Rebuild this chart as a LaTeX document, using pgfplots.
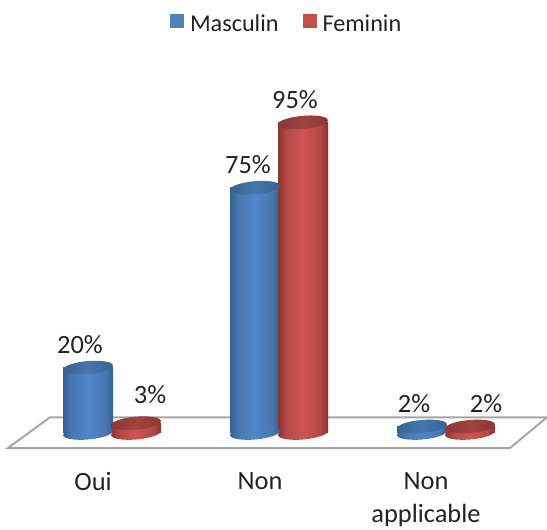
\documentclass[border=0pt]{standalone}
\usepackage{fontspec}
\setmainfont{Carlito}
\usepackage{pgfplots}
\usepackage{pgfplotstable}
\pgfplotsset{compat=1.18}

\definecolor{bE}{HTML}{345F90}
\definecolor{bM}{HTML}{4878B2}
\definecolor{bC}{HTML}{5286CA}
\definecolor{rE}{HTML}{873331}
\definecolor{rM}{HTML}{B44846}
\definecolor{rC}{HTML}{CE5552}
\definecolor{bcE}{HTML}{38628F}
\definecolor{bcC}{HTML}{4476AE}
\definecolor{rcE}{HTML}{8A3735}
\definecolor{rcC}{HTML}{A04341}

% Side shading of the cylinders and of their top faces
\pgfdeclarehorizontalshading{cylblue}{100bp}{color(0bp)=(bE); color(25bp)=(bE); color(33bp)=(bM); color(50bp)=(bC); color(67bp)=(bM); color(75bp)=(bE); color(100bp)=(bE)}
\pgfdeclarehorizontalshading{cylred}{100bp}{color(0bp)=(rE); color(25bp)=(rE); color(33bp)=(rM); color(50bp)=(rC); color(67bp)=(rM); color(75bp)=(rE); color(100bp)=(rE)}
\pgfdeclarehorizontalshading{capblue}{100bp}{color(0bp)=(bcE); color(25bp)=(bcE); color(50bp)=(bcC); color(75bp)=(bcE); color(100bp)=(bcE)}
\pgfdeclarehorizontalshading{capred}{100bp}{color(0bp)=(rcE); color(25bp)=(rcE); color(50bp)=(rcC); color(75bp)=(rcE); color(100bp)=(rcE)}

% Elliptic faces of the cylinders
\newcommand\cylface[1]{%
  \pgftransformrotate{5}%
  \pgfpathellipse{\pgfpointorigin}{\pgfqpoint{25bp}{0pt}}{\pgfqpoint{0pt}{6.5bp}}%
  \pgfshadepath{#1}{0}\pgfusepath{discard}}
\pgfdeclareplotmark{baseblue}{\cylface{cylblue}}
\pgfdeclareplotmark{basered}{\cylface{cylred}}
\pgfdeclareplotmark{topblue}{\cylface{capblue}}
\pgfdeclareplotmark{topred}{\cylface{capred}}

\definecolor{legblue}{HTML}{4F81BD}
\definecolor{legred}{HTML}{C0504D}
\definecolor{floorline}{HTML}{A6A6A6}
\definecolor{txt}{HTML}{222222}

\pgfplotstableread{
x   base val dx  dy
88  0    20  -8  0
255 0    75  -7  0
422 0    2   -8  0
}\masculin
\pgfplotstableread{
x   base val dx  dy
136 0    3   14  6
303 0    95  -8  0
470 0    2   16  0
}\feminin

\newcommand\chartfont{\fontsize{26.5}{33.5}\selectfont\color{txt}}
\newcommand\legendfont{\fontsize{24.3}{30}\selectfont\color{txt}}

\pgfplotsset{
  valuelabels/.style={
    forget plot, draw=none, mark=none,
    visualization depends on={\thisrow{dx} \as \labdx},
    visualization depends on={\thisrow{dy} \as \labdy},
    point meta=y,
    nodes near coords={\pgfmathprintnumber[assume math mode=true]{\pgfplotspointmeta}\%},
    every node near coord/.append style={font=\chartfont, xshift=\labdx bp, yshift=\labdy bp, anchor=south, inner sep=0pt, outer sep=0pt, yshift=13.5bp},
  },
  % each cylinder body is its own path, so that it gets the whole shading
  body/.style={forget plot, ybar, bar width=50, bar shift=0pt, draw=none, shade, shading=#1},
  row0/.style={skip coords between index={1}{3}},
  row1/.style={skip coords between index={0}{1}, skip coords between index={2}{3}},
  row2/.style={skip coords between index={0}{2}},
}

\begin{document}
\begin{tikzpicture}[x=1bp,y=1bp]
\useasboundingbox (0,0) rectangle (547,530);
\begin{axis}[
  at={(0bp,70bp)}, anchor=south west,
  scale only axis, width=547bp, height=460bp,
  xmin=0, xmax=547,
  ymin=-8.26, ymax=132.4,
  clip=false,
  axis line style={draw=none},
  major tick length=0pt,
  ytick=\empty,
  xtick={93,260,426},
  xticklabels={Oui,Non,Non\\applicable},
  xtick pos=bottom,
  xticklabel style={font=\chartfont, align=center, anchor=north, yshift=-12bp, inner sep=0pt},
  legend style={at={(0.524,0.9478)}, anchor=center, draw=none, fill=none, font=\legendfont, inner sep=0pt,
    legend columns=2,
    /tikz/every odd column/.append style={column sep=4bp},
    /tikz/every even column/.append style={column sep=22bp}},
  legend image code/.code={\fill[#1] (0bp,-4.5bp) rectangle (14bp,9.5bp);},
]
% Floor of the chart
\addplot[forget plot, floorline, line width=2bp, fill=white] coordinates {(8,-4.6) (50,4.8) (547,4.8) (510,-4.6) (8,-4.6)} -- cycle;

% Masculin
\addplot[forget plot, only marks, mark=baseblue] table[x=x,y=base] {\masculin};
\addplot[body=cylblue, row0] table[x=x,y=val] {\masculin};
\addplot[body=cylblue, row1] table[x=x,y=val] {\masculin};
\addplot[body=cylblue, row2] table[x=x,y=val] {\masculin};
\addplot[forget plot, only marks, mark=topblue] table[x=x,y=val] {\masculin};
% Feminin
\addplot[forget plot, only marks, mark=basered] table[x=x,y=base] {\feminin};
\addplot[body=cylred, row0] table[x=x,y=val] {\feminin};
\addplot[body=cylred, row1] table[x=x,y=val] {\feminin};
\addplot[body=cylred, row2] table[x=x,y=val] {\feminin};
\addplot[forget plot, only marks, mark=topred] table[x=x,y=val] {\feminin};

% Value labels
\addplot[valuelabels] table[x=x,y=val] {\masculin};
\addplot[valuelabels] table[x=x,y=val] {\feminin};

% Legend keys
\addlegendimage{fill=legblue, draw=none}
\addlegendentry{Masculin}
\addlegendimage{fill=legred, draw=none}
\addlegendentry{Feminin}
\end{axis}
\end{tikzpicture}
\end{document}
